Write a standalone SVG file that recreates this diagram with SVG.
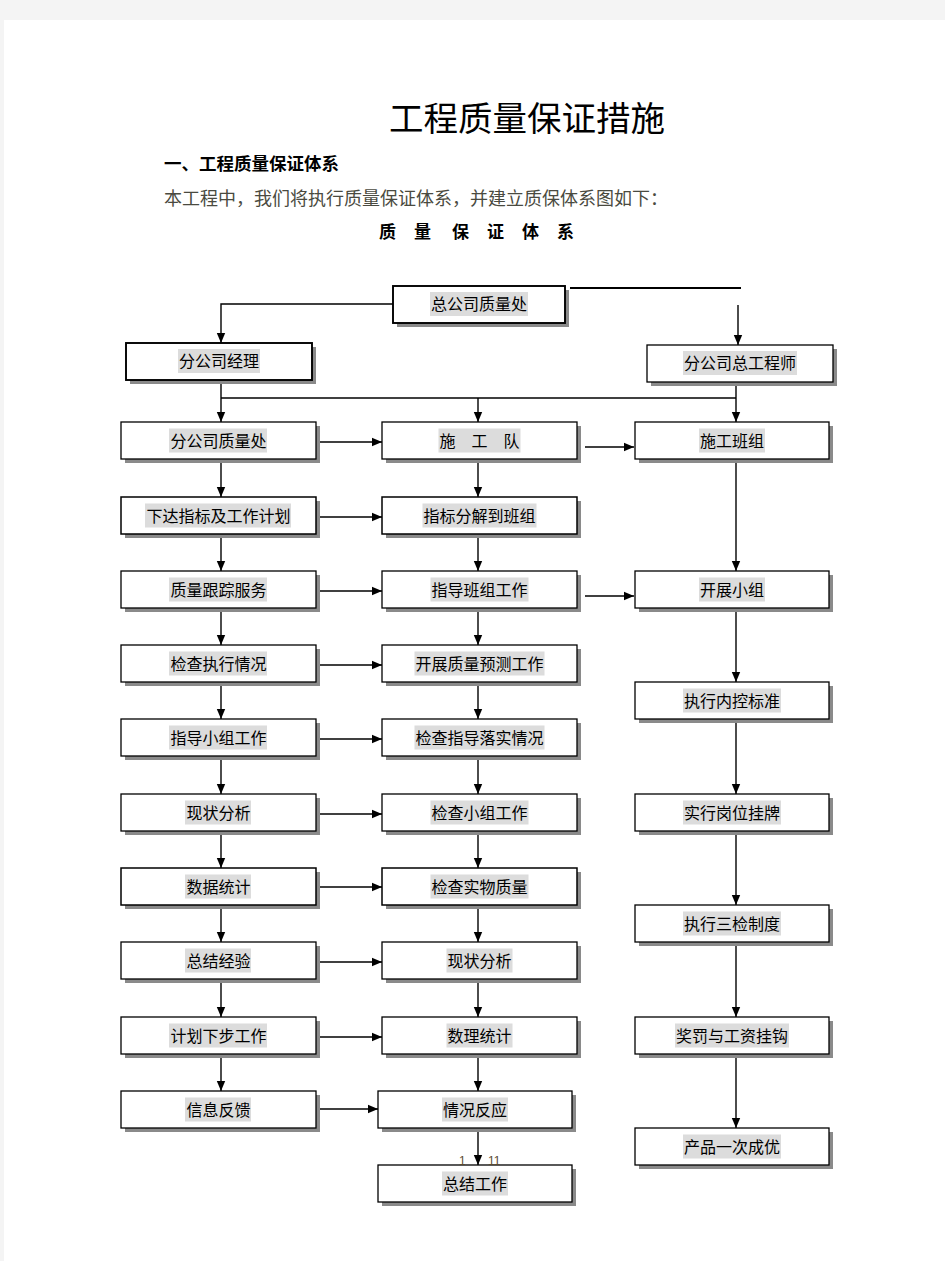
<svg xmlns="http://www.w3.org/2000/svg" width="945" height="1261" viewBox="0 0 945 1261">
<defs>
<style>
.sh{fill:#8a8a8a;stroke:none}
.bx{fill:#fff;stroke:#000;stroke-width:1.3}
.bx2{fill:#fff;stroke:#000;stroke-width:1.9}
.bx3{fill:#fff;stroke:#000;stroke-width:1.5}
.hl{fill:#dcdcdc;stroke:none}
.t{font-family:"Noto Sans CJK SC","Noto Sans CJK JP",sans-serif;font-size:16px;fill:#000;text-anchor:middle}
.c{fill:none;stroke:#000;stroke-width:1.4}
.a{fill:none;stroke:#000;stroke-width:1.4;marker-end:url(#ah)}
.hd{font-family:"Noto Sans CJK SC",serif;fill:#000}
</style>
<marker id="ah" markerWidth="10" markerHeight="10" refX="10" refY="5" orient="auto" markerUnits="userSpaceOnUse"><path d="M0,0.8 L10,5 L0,9.2 z" fill="#000"/></marker>
</defs>
<rect x="0" y="0" width="945" height="1261" fill="#f4f4f4"/>
<rect x="4" y="20" width="941" height="1241" fill="#fff"/>

<g id="header">
<text class="hd" x="527" y="131" font-size="34.5" text-anchor="middle">工程质量保证措施</text>
<text class="hd" x="164" y="170" font-size="17.5" font-weight="bold">一、工程质量保证体系</text>
<text class="hd" x="164" y="205" font-size="18" style="fill:#4a4a40">本工程中，我们将执行质量保证体系，并建立质保体系图如下：</text>
<text class="hd" y="238" font-size="17" font-weight="bold"><tspan x="379">质</tspan><tspan x="414">量</tspan><tspan x="452">保</tspan><tspan x="487">证</tspan><tspan x="522">体</tspan><tspan x="557">系</tspan></text>
</g>

<g id="connectors">
<polyline class="a" points="393,304 221,304 221,343"/>
<line class="c" x1="570" y1="288" x2="741" y2="288" style="stroke-width:2"/>
<line class="a" x1="738" y1="305" x2="738" y2="345"/>
<line class="c" x1="221" y1="380" x2="221" y2="398"/>
<line class="c" x1="736" y1="382" x2="736" y2="398"/>
<line class="c" x1="221" y1="398" x2="736" y2="398"/>
<line class="a" x1="221" y1="398" x2="221" y2="422"/>
<line class="a" x1="478" y1="398" x2="478" y2="422"/>
<line class="a" x1="736" y1="398" x2="736" y2="422"/>
<line class="a" x1="221" y1="459" x2="221" y2="497"/>
<line class="a" x1="221" y1="534" x2="221" y2="571"/>
<line class="a" x1="221" y1="608" x2="221" y2="645"/>
<line class="a" x1="221" y1="682" x2="221" y2="719"/>
<line class="a" x1="221" y1="756" x2="221" y2="794"/>
<line class="a" x1="221" y1="831" x2="221" y2="868"/>
<line class="a" x1="221" y1="905" x2="221" y2="942"/>
<line class="a" x1="221" y1="979" x2="221" y2="1017"/>
<line class="a" x1="221" y1="1054" x2="221" y2="1091"/>
<line class="a" x1="478" y1="459" x2="478" y2="497"/>
<line class="a" x1="478" y1="534" x2="478" y2="571"/>
<line class="a" x1="478" y1="608" x2="478" y2="645"/>
<line class="a" x1="478" y1="682" x2="478" y2="719"/>
<line class="a" x1="478" y1="756" x2="478" y2="794"/>
<line class="a" x1="478" y1="831" x2="478" y2="868"/>
<line class="a" x1="478" y1="905" x2="478" y2="942"/>
<line class="a" x1="478" y1="979" x2="478" y2="1017"/>
<line class="a" x1="478" y1="1054" x2="478" y2="1091"/>
<line class="a" x1="478" y1="1128" x2="478" y2="1165"/>
<line class="a" x1="736" y1="459" x2="736" y2="571"/>
<line class="a" x1="736" y1="608" x2="736" y2="682"/>
<line class="a" x1="736" y1="719" x2="736" y2="794"/>
<line class="a" x1="736" y1="831" x2="736" y2="905"/>
<line class="a" x1="736" y1="942" x2="736" y2="1017"/>
<line class="a" x1="736" y1="1054" x2="736" y2="1128"/>
<line class="a" x1="320" y1="442" x2="382" y2="442"/>
<line class="a" x1="320" y1="517" x2="382" y2="517"/>
<line class="a" x1="320" y1="591" x2="382" y2="591"/>
<line class="a" x1="320" y1="665" x2="382" y2="665"/>
<line class="a" x1="320" y1="739" x2="382" y2="739"/>
<line class="a" x1="320" y1="814" x2="382" y2="814"/>
<line class="a" x1="320" y1="887" x2="382" y2="887"/>
<line class="a" x1="320" y1="962" x2="382" y2="962"/>
<line class="a" x1="320" y1="1037" x2="382" y2="1037"/>
<line class="a" x1="318" y1="1109" x2="378" y2="1109"/>
<line class="a" x1="585" y1="447" x2="634" y2="447"/>
<line class="a" x1="585" y1="596" x2="634" y2="596"/>
</g>

<g id="n-zgs">
<rect class="sh" x="397" y="290" width="172" height="37"/>
<rect class="bx2" x="393" y="286" width="172" height="37"/>
<rect class="hl" x="430" y="292" width="98" height="24"/>
<text class="t" x="479" y="310">总公司质量处</text>
</g>
<g id="n-fgsjl">
<rect class="sh" x="130" y="347" width="186" height="37"/>
<rect class="bx2" x="126" y="343" width="186" height="37"/>
<rect class="hl" x="178" y="349" width="82" height="24"/>
<text class="t" x="219" y="367">分公司经理</text>
</g>
<g id="n-zgcs">
<rect class="sh" x="651" y="349" width="186" height="37"/>
<rect class="bx" x="647" y="345" width="186" height="37"/>
<rect class="hl" x="683" y="351" width="114" height="24"/>
<text class="t" x="740" y="369">分公司总工程师</text>
</g>

<g id="c1r1"><rect class="sh" x="125" y="426" width="195" height="37"/><rect class="bx" x="121" y="422" width="195" height="37"/><rect class="hl" x="169" y="428.5" width="98" height="24"/><text class="t" x="218.5" y="446.5">分公司质量处</text></g>
<g id="c1r2"><rect class="sh" x="125" y="501" width="195" height="37"/><rect class="bx3" x="121" y="497" width="195" height="37"/><rect class="hl" x="145" y="503.5" width="146" height="24"/><text class="t" x="218.5" y="521.5">下达指标及工作计划</text></g>
<g id="c1r3"><rect class="sh" x="125" y="575" width="195" height="37"/><rect class="bx" x="121" y="571" width="195" height="37"/><rect class="hl" x="169" y="577.5" width="98" height="24"/><text class="t" x="218.5" y="595.5">质量跟踪服务</text></g>
<g id="c1r4"><rect class="sh" x="125" y="649" width="195" height="37"/><rect class="bx" x="121" y="645" width="195" height="37"/><rect class="hl" x="169" y="651.5" width="98" height="24"/><text class="t" x="218.5" y="669.5">检查执行情况</text></g>
<g id="c1r5"><rect class="sh" x="125" y="723" width="195" height="37"/><rect class="bx" x="121" y="719" width="195" height="37"/><rect class="hl" x="169" y="725.5" width="98" height="24"/><text class="t" x="218.5" y="743.5">指导小组工作</text></g>
<g id="c1r6"><rect class="sh" x="125" y="798" width="195" height="37"/><rect class="bx" x="121" y="794" width="195" height="37"/><rect class="hl" x="185" y="800.5" width="66" height="24"/><text class="t" x="218.5" y="818.5">现状分析</text></g>
<g id="c1r7"><rect class="sh" x="125" y="872" width="195" height="37"/><rect class="bx3" x="121" y="868" width="195" height="37"/><rect class="hl" x="185" y="874.5" width="66" height="24"/><text class="t" x="218.5" y="892.5">数据统计</text></g>
<g id="c1r8"><rect class="sh" x="125" y="946" width="195" height="37"/><rect class="bx" x="121" y="942" width="195" height="37"/><rect class="hl" x="185" y="948.5" width="66" height="24"/><text class="t" x="218.5" y="966.5">总结经验</text></g>
<g id="c1r9"><rect class="sh" x="125" y="1021" width="195" height="37"/><rect class="bx" x="121" y="1017" width="195" height="37"/><rect class="hl" x="169" y="1023.5" width="98" height="24"/><text class="t" x="218.5" y="1041.5">计划下步工作</text></g>
<g id="c1r10"><rect class="sh" x="125" y="1095" width="195" height="37"/><rect class="bx" x="121" y="1091" width="195" height="37"/><rect class="hl" x="185" y="1097.5" width="66" height="24"/><text class="t" x="218.5" y="1115.5">信息反馈</text></g>

<g id="c2r1"><rect class="sh" x="386" y="426" width="195" height="37"/><rect class="bx" x="382" y="422" width="195" height="37"/><rect class="hl" x="438.5" y="428.5" width="82" height="24"/><text class="t" x="479.5" y="446.5">施　工　队</text></g>
<g id="c2r2"><rect class="sh" x="386" y="501" width="195" height="37"/><rect class="bx3" x="382" y="497" width="195" height="37"/><rect class="hl" x="422.5" y="503.5" width="114" height="24"/><text class="t" x="479.5" y="521.5">指标分解到班组</text></g>
<g id="c2r3"><rect class="sh" x="386" y="575" width="195" height="37"/><rect class="bx" x="382" y="571" width="195" height="37"/><rect class="hl" x="430.5" y="577.5" width="98" height="24"/><text class="t" x="479.5" y="595.5">指导班组工作</text></g>
<g id="c2r4"><rect class="sh" x="386" y="649" width="195" height="37"/><rect class="bx" x="382" y="645" width="195" height="37"/><rect class="hl" x="414.5" y="651.5" width="130" height="24"/><text class="t" x="479.5" y="669.5">开展质量预测工作</text></g>
<g id="c2r5"><rect class="sh" x="386" y="723" width="195" height="37"/><rect class="bx" x="382" y="719" width="195" height="37"/><rect class="hl" x="414.5" y="725.5" width="130" height="24"/><text class="t" x="479.5" y="743.5">检查指导落实情况</text></g>
<g id="c2r6"><rect class="sh" x="386" y="798" width="195" height="37"/><rect class="bx" x="382" y="794" width="195" height="37"/><rect class="hl" x="430.5" y="800.5" width="98" height="24"/><text class="t" x="479.5" y="818.5">检查小组工作</text></g>
<g id="c2r7"><rect class="sh" x="386" y="872" width="195" height="37"/><rect class="bx3" x="382" y="868" width="195" height="37"/><rect class="hl" x="430.5" y="874.5" width="98" height="24"/><text class="t" x="479.5" y="892.5">检查实物质量</text></g>
<g id="c2r8"><rect class="sh" x="386" y="946" width="195" height="37"/><rect class="bx" x="382" y="942" width="195" height="37"/><rect class="hl" x="446.5" y="948.5" width="66" height="24"/><text class="t" x="479.5" y="966.5">现状分析</text></g>
<g id="c2r9"><rect class="sh" x="386" y="1021" width="195" height="37"/><rect class="bx" x="382" y="1017" width="195" height="37"/><rect class="hl" x="446.5" y="1023.5" width="66" height="24"/><text class="t" x="479.5" y="1041.5">数理统计</text></g>
<g id="c2r10"><rect class="sh" x="382" y="1095" width="194" height="37"/><rect class="bx" x="378" y="1091" width="194" height="37"/><rect class="hl" x="442" y="1097.5" width="66" height="24"/><text class="t" x="475" y="1115.5">情况反应</text></g>
<g id="c2r11"><rect class="sh" x="382" y="1169" width="194" height="37"/><rect class="bx" x="378" y="1165" width="194" height="37"/><rect class="hl" x="442" y="1171.5" width="66" height="24"/><text class="t" x="475" y="1189.5">总结工作</text></g>

<g id="c3r1"><rect class="sh" x="639" y="426" width="194" height="37"/><rect class="bx" x="635" y="422" width="194" height="37"/><rect class="hl" x="699" y="428.5" width="66" height="24"/><text class="t" x="732" y="446.5">施工班组</text></g>
<g id="c3r2"><rect class="sh" x="639" y="575" width="194" height="37"/><rect class="bx" x="635" y="571" width="194" height="37"/><rect class="hl" x="699" y="577.5" width="66" height="24"/><text class="t" x="732" y="595.5">开展小组</text></g>
<g id="c3r3"><rect class="sh" x="639" y="686" width="194" height="37"/><rect class="bx" x="635" y="682" width="194" height="37"/><rect class="hl" x="683" y="688.5" width="98" height="24"/><text class="t" x="732" y="706.5">执行内控标准</text></g>
<g id="c3r4"><rect class="sh" x="639" y="798" width="194" height="37"/><rect class="bx" x="635" y="794" width="194" height="37"/><rect class="hl" x="683" y="800.5" width="98" height="24"/><text class="t" x="732" y="818.5">实行岗位挂牌</text></g>
<g id="c3r5"><rect class="sh" x="639" y="909" width="194" height="37"/><rect class="bx" x="635" y="905" width="194" height="37"/><rect class="hl" x="683" y="911.5" width="98" height="24"/><text class="t" x="732" y="929.5">执行三检制度</text></g>
<g id="c3r6"><rect class="sh" x="639" y="1021" width="194" height="37"/><rect class="bx" x="635" y="1017" width="194" height="37"/><rect class="hl" x="675" y="1023.5" width="114" height="24"/><text class="t" x="732" y="1041.5">奖罚与工资挂钩</text></g>
<g id="c3r7"><rect class="sh" x="639" y="1132" width="194" height="37"/><rect class="bx" x="635" y="1128" width="194" height="37"/><rect class="hl" x="683" y="1134.5" width="98" height="24"/><text class="t" x="732" y="1152.5">产品一次成优</text></g>

<g id="marks">
<text x="459" y="1165" font-family="Liberation Sans,sans-serif" font-size="12" fill="#5a4a30">1</text>
<text x="488" y="1165" font-family="Liberation Sans,sans-serif" font-size="12" fill="#5a4a30">11</text>
</g>
</svg>
